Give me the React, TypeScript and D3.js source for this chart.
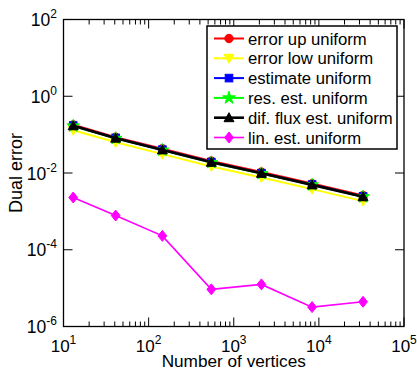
import React from "react";
import * as d3 from "d3";

const vertices = [13, 41, 145, 545, 2113, 8321, 33025];
const errorUp = [0.18, 0.086, 0.043, 0.0205, 0.0106, 0.0053, 0.0026];
const errorLow = [0.13, 0.063, 0.031, 0.0148, 0.0076, 0.0038, 0.00185];
const estimate = [0.172, 0.082, 0.0405, 0.0193, 0.0099, 0.005, 0.00245];
const resEst = [0.168, 0.08, 0.0395, 0.0188, 0.0097, 0.0049, 0.0024];
const difFlux = [0.17, 0.081, 0.04, 0.019, 0.0098, 0.0049, 0.0024];
const linEst = [2.3e-3, 7.8e-4, 2.3e-4, 9.3e-6, 1.25e-5, 3.2e-6, 4.4e-6];

const seriesNames = [
  "error up uniform",
  "error low uniform",
  "estimate uniform",
  "res. est. uniform",
  "dif. flux est. uniform",
  "lin. est. uniform",
];
const seriesColors = ["#ff0000", "#ffff00", "#0000ff", "#00ff00", "#000000", "#ff00ff"];
const seriesMarkers = ["circle", "triDown", "square", "star", "triUp", "diamond"];
const seriesData = [errorUp, errorLow, estimate, resEst, difFlux, linEst];

const xTickExps = [1, 2, 3, 4, 5];
const yTickExps = [2, 0, -2, -4, -6];

const W = 417, H = 370;
const L = 63.5, R = 404, T = 19.5, B = 326.5;
const FONT = "'Liberation Sans', Arial, sans-serif";

function Marker({ type, x, y, color }: { type: string; x: number; y: number; color: string }) {
  if (type === "circle") return <circle cx={x} cy={y} r={4.2} fill={color} stroke={color} />;
  if (type === "square") return <rect x={x - 3.8} y={y - 3.8} width={7.6} height={7.6} fill={color} stroke={color} />;
  if (type === "triUp") {
    const s = 5;
    return <path d={`M${x},${y - s}L${x + s},${y + s * 0.8}L${x - s},${y + s * 0.8}Z`} fill={color} stroke={color} />;
  }
  if (type === "triDown") {
    const s = 5;
    return <path d={`M${x},${y + s}L${x + s},${y - s * 0.8}L${x - s},${y - s * 0.8}Z`} fill={color} stroke={color} />;
  }
  if (type === "diamond") {
    const s = 5.5;
    return <path d={`M${x},${y - s}L${x + s * 0.8},${y}L${x},${y + s}L${x - s * 0.8},${y}Z`} fill={color} stroke={color} />;
  }
  const sym = d3.symbol(d3.symbolStar, 50)();
  return <path d={sym || ""} transform={`translate(${x},${y})`} fill={color} stroke={color} />;
}

export default function App() {
  const x = d3.scaleLog().domain([10, 1e5]).range([L, R]);
  const y = d3.scaleLog().domain([1e-6, 1e2]).range([B, T]);
  const line = d3
    .line<number>()
    .x((_, i) => x(vertices[i]))
    .y((d) => y(d));

  const minorX: number[] = [];
  for (let e = 1; e < 5; e++) for (let k = 2; k <= 9; k++) minorX.push(k * Math.pow(10, e));

  const lineWidths = [2, 2, 2, 2, 2.6, 1.6];

  const legX = 207, legY = 26, legW = 190, legH = 123;

  return (
    <svg width={W} height={H} style={{ position: "absolute", left: 0, top: 0, background: "#fff" }} fontFamily={FONT}>
      <rect x={0} y={0} width={W} height={H} fill="#fff" />
      {seriesData.map((d, si) => (
        <g key={si}>
          <path d={line(d) || ""} fill="none" stroke={seriesColors[si]} strokeWidth={lineWidths[si]} />
          {d.map((v, i) => (
            <Marker key={i} type={seriesMarkers[si]} x={x(vertices[i])} y={y(v)} color={seriesColors[si]} />
          ))}
        </g>
      ))}
      <rect x={L} y={T} width={R - L} height={B - T} fill="none" stroke="#000" strokeWidth={1.3} />
      {xTickExps.map((e) => {
        const px = x(Math.pow(10, e));
        return (
          <g key={"xt" + e}>
            <line x1={px} x2={px} y1={B} y2={B - 9} stroke="#000" />
            <line x1={px} x2={px} y1={T} y2={T + 9} stroke="#000" />
            <text x={px} y={352} textAnchor="middle" fontSize={17} fill="#000">
              10<tspan fontSize={12} dy={-8}>{e}</tspan>
            </text>
          </g>
        );
      })}
      {minorX.map((v, i) => {
        const px = x(v);
        return (
          <g key={"mx" + i}>
            <line x1={px} x2={px} y1={B} y2={B - 5} stroke="#000" />
            <line x1={px} x2={px} y1={T} y2={T + 5} stroke="#000" />
          </g>
        );
      })}
      {yTickExps.map((e) => {
        const py = y(Math.pow(10, e));
        return (
          <g key={"yt" + e}>
            <line x1={L} x2={L + 9} y1={py} y2={py} stroke="#000" />
            <line x1={R} x2={R - 9} y1={py} y2={py} stroke="#000" />
            <text x={57} y={py + 6.5} textAnchor="end" fontSize={17.5} fill="#000">
              10<tspan fontSize={12} dy={-8}>{e}</tspan>
            </text>
          </g>
        );
      })}
      <text x={(L + R) / 2} y={367} textAnchor="middle" fontSize={17.2} fill="#000">
        Number of vertices
      </text>
      <text transform={`translate(22,${(T + B) / 2}) rotate(-90)`} textAnchor="middle" fontSize={18} fill="#000">
        Dual error
      </text>
      <rect x={legX} y={legY} width={legW} height={legH} fill="#fff" stroke="#000" strokeWidth={1.5} />
      {seriesNames.map((name, i) => {
        const cy = 38.5 + i * 19.8;
        return (
          <g key={"lg" + i}>
            <line x1={214} x2={244} y1={cy} y2={cy} stroke={seriesColors[i]} strokeWidth={lineWidths[i]} />
            <Marker type={seriesMarkers[i]} x={229} y={cy} color={seriesColors[i]} />
            <text x={248} y={cy + 6} fontSize={16.7} fill="#000">
              {name}
            </text>
          </g>
        );
      })}
    </svg>
  );
}
